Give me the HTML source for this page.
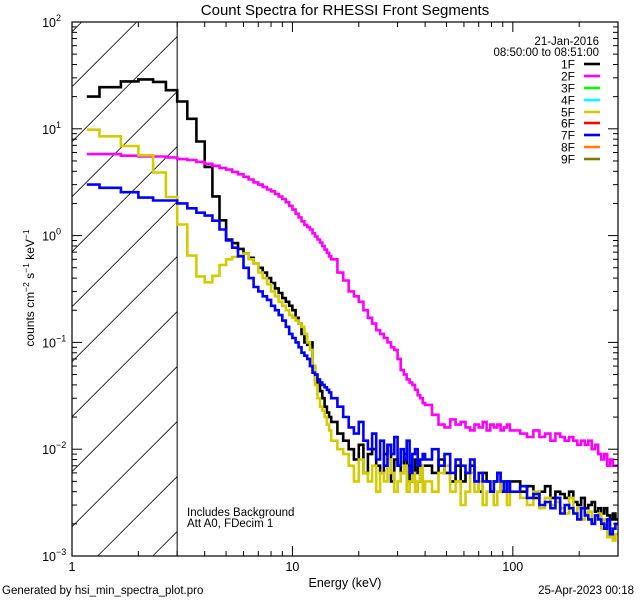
<!DOCTYPE html>
<html><head><meta charset="utf-8"><style>
html,body{margin:0;padding:0;background:#fff;width:640px;height:600px;overflow:hidden;}
svg{display:block;font-family:"Liberation Sans",sans-serif;overflow:hidden;}
</style></head><body>
<svg id="chart" width="640" height="600" viewBox="0 0 640 600">
<rect width="640" height="600" fill="#fff"/>
<text x="345" y="15" font-size="15" text-anchor="middle">Count Spectra for RHESSI Front Segments</text>
<text transform="translate(34,288) rotate(-90)" font-size="12" text-anchor="middle">counts cm<tspan dy="-5" font-size="8.5">−2</tspan><tspan dy="5"> s</tspan><tspan dy="-5" font-size="8.5">−1</tspan><tspan dy="5"> keV</tspan><tspan dy="-5" font-size="8.5">−1</tspan></text>
<text x="345" y="587" font-size="12.5" text-anchor="middle">Energy (keV)</text>
<text x="2" y="594" font-size="11.5">Generated by hsi_min_spectra_plot.pro</text>
<text x="634" y="594" font-size="11.5" text-anchor="end">25-Apr-2023 00:18</text>
<text x="187" y="516" font-size="11.5">Includes Background</text>
<text x="187" y="527" font-size="11.5">Att A0, FDecim 1</text>
<text x="599" y="45" font-size="11.5" text-anchor="end">21-Jan-2016</text>
<text x="599" y="56" font-size="11.5" text-anchor="end">08:50:00 to 08:51:00</text>
<g id="hatch"></g>
<g id="series"></g>
<g id="axes"></g>
<g id="legend"></g>
</svg>
<script>
// ---- data ----
const segA = [7/6,4/3,5/3,2,7/3,8/3,3,10/3,11/3,4,13/3,14/3,5,16/3,17/3,6,19/3,20/3,7,22/3,23/3,8,25/3,26/3,9,28/3,29/3,10,31/3,32/3,11,34/3,35/3,12,37/3,38/3,13,40/3,41/3,14,43/3,44/3];
const segB = [15,16,17,18,19,20,21,22,23,24,25,26,27,28,29,30,31,32,33,34,35,36,37,38,39];
const segC = [40,43,46,49,52,55,58,61,64,67,70,73,76,79,82,85,88,91,94,97];
const segD = [100,108,116,124,132,140,148,156,164,172,180,188,196,204,212,220,228,236,244,252,260,268,276,284,292];
const lastEdge = 300;

const black1F = [20,24.5,27.8,29,27.5,23,18,12.4,7.6,4.4,2.33,1.39,0.92,0.85,0.75,0.68,0.62,0.55,0.5,0.45,0.4,0.36,0.32,0.29,0.26,0.24,0.22,0.2,0.17,0.15,0.12,0.1,0.095,0.1,0.06,0.045,0.04,0.035,0.03,0.025,0.022,0.02,
0.018,0.014,0.012,0.01,0.008,0.011,0.006,0.009,0.01,0.007,0.006,0.009,0.011,0.005,0.008,0.007,0.006,0.009,0.007,0.005,0.006,0.008,0.006,0.005,0.007,
0.007,0.006,0.008,0.006,0.005,0.007,0.005,0.006,0.007,0.005,0.004,0.006,0.005,0.004,0.005,0.006,0.004,0.005,0.004,0.005,
0.005,0.004,0.0045,0.0035,0.004,0.0045,0.0035,0.004,0.0038,0.0035,0.004,0.0032,0.003,0.0035,0.0028,0.003,0.0032,0.0026,0.0028,0.0025,0.0028,0.0024,0.0022,0.0025,0.0022];
const magenta2F = [5.8,5.8,5.6,5.5,5.5,5.4,5.2,5.1,4.9,4.7,4.5,4.3,4.15,3.95,3.75,3.55,3.35,3.15,3.0,2.85,2.7,2.6,2.45,2.33,2.2,2.05,1.9,1.75,1.6,1.48,1.36,1.26,1.2,1.14,1.05,0.98,0.92,0.86,0.8,0.74,0.69,0.64,
0.6,0.45,0.38,0.3,0.27,0.24,0.2,0.17,0.15,0.13,0.12,0.11,0.1,0.09,0.085,0.07,0.055,0.05,0.045,0.042,0.04,0.036,0.032,0.03,0.027,
0.026,0.021,0.017,0.016,0.019,0.017,0.018,0.016,0.015,0.017,0.016,0.018,0.015,0.017,0.016,0.017,0.015,0.016,0.017,0.015,
0.015,0.014,0.013,0.015,0.013,0.014,0.012,0.014,0.013,0.012,0.013,0.012,0.011,0.012,0.011,0.012,0.01,0.011,0.009,0.008,0.009,0.007,0.008,0.007,0.007];
const yellow5F = [9.8,8.5,6.9,5.65,3.9,2.3,1.27,0.65,0.415,0.365,0.42,0.53,0.6,0.63,0.65,0.68,0.6,0.55,0.45,0.4,0.35,0.3,0.27,0.24,0.22,0.2,0.18,0.17,0.16,0.15,0.14,0.12,0.1,0.085,0.06,0.04,0.03,0.025,0.023,0.02,0.017,0.015,
0.012,0.01,0.009,0.007,0.005,0.008,0.006,0.005,0.007,0.004,0.006,0.005,0.008,0.006,0.004,0.005,0.006,0.007,0.004,0.005,0.006,0.004,0.005,0.007,0.004,
0.005,0.004,0.006,0.007,0.004,0.005,0.003,0.004,0.006,0.004,0.005,0.003,0.004,0.005,0.003,0.004,0.005,0.004,0.003,0.004,
0.004,0.0035,0.003,0.004,0.0028,0.0035,0.003,0.0032,0.0028,0.0025,0.0035,0.0025,0.0028,0.0022,0.0025,0.0026,0.002,0.0022,0.0025,0.0018,0.0022,0.0015,0.0018,0.0014,0.0016];
const blue7F = [3.0,2.8,2.55,2.27,2.13,2.13,2.0,1.8,1.64,1.54,1.38,1.14,0.9,0.77,0.64,0.5,0.4,0.33,0.3,0.27,0.25,0.22,0.2,0.18,0.16,0.14,0.12,0.11,0.1,0.09,0.08,0.075,0.07,0.06,0.052,0.05,0.045,0.042,0.04,0.038,0.036,0.034,
0.03,0.025,0.02,0.016,0.014,0.018,0.012,0.01,0.014,0.008,0.012,0.007,0.011,0.009,0.013,0.007,0.01,0.008,0.012,0.006,0.009,0.01,0.007,0.008,0.009,
0.008,0.01,0.007,0.009,0.006,0.008,0.007,0.006,0.008,0.005,0.006,0.005,0.005,0.004,0.005,0.006,0.005,0.004,0.005,0.004,
0.004,0.0045,0.0035,0.0038,0.003,0.0032,0.0028,0.0035,0.0025,0.003,0.0028,0.0025,0.0022,0.0028,0.0024,0.0022,0.002,0.0024,0.0022,0.002,0.0018,0.0022,0.0016,0.0018,0.002];

const legendLabels = ["1F","2F","3F","4F","5F","6F","7F","8F","9F"];
const legendColors = ["#000000","#ff00ff","#00ff00","#00ffff","#d4cc00","#ff0000","#0000ff","#ff8000","#7f7f00"];
const xTickLabels = ["1","10","100"];
const xTickValues = [1,10,100];
const yTickExps = [-3,-2,-1,0,1,2];

// ---- axes ----
const L=72, R=618, T=22, B=556;
const xMin=1, xMax=300, yMin=-3, yMax=2;
const X = e => L + (Math.log10(e)-Math.log10(xMin))/(Math.log10(xMax)-Math.log10(xMin))*(R-L);
const Y = v => B - (Math.log10(v)-yMin)/(yMax-yMin)*(B-T);
const NS='http://www.w3.org/2000/svg';
function mk(tag, attrs, parent){const el=document.createElementNS(NS,tag);for(const k in attrs)el.setAttribute(k,attrs[k]);parent.appendChild(el);return el;}

const edges = segA.concat(segB, segC, segD, [lastEdge]);

// hatch (lines y = c - (x - L), clipped analytically to the box)
const hatch=document.getElementById('hatch');
const defs=mk('defs',{},document.getElementById('chart'));
const XR=X(3);
for(let c=416.7-55*8;c<B+(XR-L)+60;c+=55){
  // x range: y in [T,B] -> x in [L+c-B, L+c-T]
  const xa=Math.max(L, L+c-B), xb=Math.min(XR, L+c-T);
  if(xb<=xa) continue;
  const ln=mk('line',{x1:xa,y1:c-(xa-L),x2:xb,y2:c-(xb-L),stroke:'#000','stroke-width':0.8},hatch);
  
  
}
const vl=mk('line',{x1:XR,y1:T,x2:XR,y2:B,stroke:'#000','stroke-width':1},hatch);



// series
const sg=document.getElementById('series');
function stepPath(vals){
  let d='';
  for(let i=0;i<vals.length;i++){
    const x0=X(edges[i]), x1=X(edges[i+1]), y=Math.min(B,Math.max(T,Y(vals[i])));
    d += (i===0?'M':'L')+x0.toFixed(1)+','+y.toFixed(1)+'L'+x1.toFixed(1)+','+y.toFixed(1);
  }
  return d;
}
const seriesList=[[black1F,'#000000','series-1f'],[magenta2F,'#ff00ff','series-2f'],[yellow5F,'#d4cc00','series-5f'],[blue7F,'#0000ff','series-7f']];
seriesList.forEach(s=>{
  const p=mk('path',{d:stepPath(s[0]),fill:'none',stroke:s[1],'stroke-width':2.6,'stroke-linejoin':'miter'},sg);
  
  
});

// axes
const ag=document.getElementById('axes');
const frame=mk('rect',{x:L,y:T,width:R-L,height:B-T,fill:'none',stroke:'#000','stroke-width':1.2},ag);


for(let dec=1;dec<=100;dec*=10){
  for(let m=1;m<=9;m++){
    const e=dec*m; if(e>xMax) break;
    const x=X(e), len=(m===1)?10:5;
    mk('line',{x1:x,y1:B,x2:x,y2:B-len,stroke:'#000','stroke-width':1},ag);
    mk('line',{x1:x,y1:T,x2:x,y2:T+len,stroke:'#000','stroke-width':1},ag);
  }
}
xTickLabels.forEach((t,i)=>{
  const tx=mk('text',{x:X(xTickValues[i]),y:B+15,'font-size':12.5,'text-anchor':'middle'},ag);
  tx.textContent=t;
  
  
});
yTickExps.forEach(p=>{
  for(let m=1;m<=9;m++){
    const v=m*Math.pow(10,p); if(Math.log10(v)>yMax+1e-9) break;
    const y=Y(v), len=(m===1)?10:5;
    mk('line',{x1:L,y1:y,x2:L+len,y2:y,stroke:'#000','stroke-width':1},ag);
    mk('line',{x1:R,y1:y,x2:R-len,y2:y,stroke:'#000','stroke-width':1},ag);
  }
  const tx=mk('text',{x:L-16,y:Y(Math.pow(10,p))+5,'font-size':12.5,'text-anchor':'end'},ag);
  
  
  tx.textContent='10';
  const sup=mk('tspan',{x:L-16,dy:-6,'font-size':9,'text-anchor':'start'},tx);
  sup.textContent=(p<0?'−':'')+Math.abs(p);
});

// legend
const lg=document.getElementById('legend');
const rowsY=[64,76,88,100,112,123,135,147,159];
legendLabels.forEach((lab,i)=>{
  const t=mk('text',{x:575,y:rowsY[i]+4.5,'font-size':12,'text-anchor':'end'},lg);
  t.textContent=lab;
  
  
  const l=mk('line',{x1:584,y1:rowsY[i],x2:600,y2:rowsY[i],stroke:legendColors[i],'stroke-width':2.6},lg);
  
  
});
</script>
</body></html>
